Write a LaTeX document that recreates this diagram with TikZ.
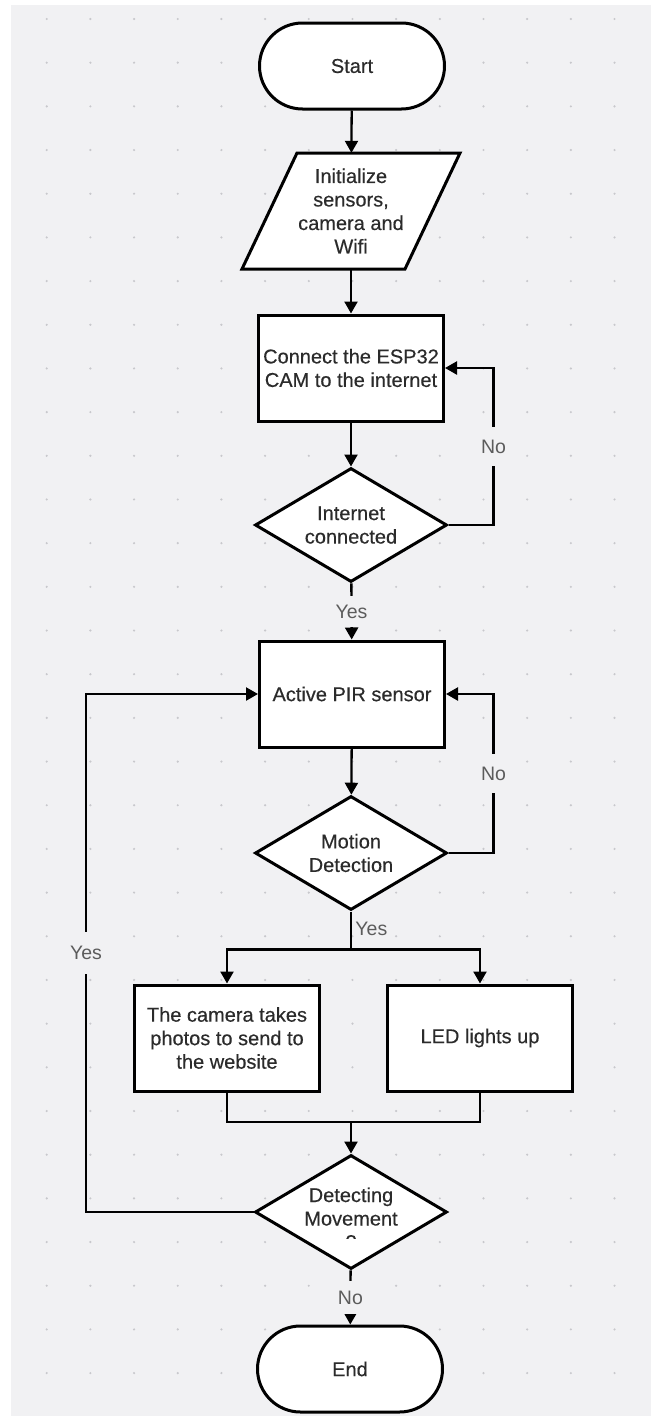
\documentclass[tikz,border=0pt]{standalone}
\usepackage{fontspec}
\setmainfont{Liberation Sans}
\newfontfamily\chartfont{Liberation Sans}[FakeBold=0.35]
\usetikzlibrary{shapes.geometric, shapes.misc, arrows.meta}

\definecolor{canvas}{HTML}{F1F1F3}
\definecolor{griddot}{HTML}{C8C8CC}
\definecolor{inktext}{HTML}{2B2B2B}
\definecolor{labeltext}{HTML}{5C5C5C}

\begin{document}
\begin{tikzpicture}[x=1pt, y=-1pt,
    every node/.style={font=\chartfont\fontsize{20}{23.5}\selectfont, text=inktext},
    terminal/.style={rounded rectangle, draw, line width=3pt, fill=white,
      minimum width=185pt, minimum height=86pt, inner sep=0pt},
    process/.style={rectangle, draw, line width=3pt, fill=white,
      minimum width=185pt, minimum height=106pt, inner sep=0pt, align=center},
    inout/.style={rectangle, minimum width=163pt, minimum height=116pt,
      inner sep=0pt, align=center},
    decision/.style={diamond, draw, line width=3pt, fill=white,
      minimum width=192pt, minimum height=114pt, inner sep=-18pt, align=center},
    flow/.style={line width=2.3pt, -{Triangle[length=12pt, width=13pt]}},
    plain/.style={line width=2.3pt},
    answer/.style={fill=canvas, text=labeltext, inner xsep=2pt, inner ysep=11pt,
      font=\fontsize{19.5}{23.5}\selectfont}]

  \useasboundingbox (0,0) rectangle (651,1416);

  % --- canvas with dot grid ---
  \fill[white] (0,0) rectangle (651,1416);
  \fill[canvas] (11,5) rectangle (651,1416);
  \foreach \i in {0,...,13}
    \foreach \j in {0,...,31}
      \fill[griddot] ({46.7+43.68*\i},{19+43.68*\j}) circle (1.2);

  % input box outline (parallelogram)
  \draw[line width=3pt, fill=white, line join=miter]
    (297,153) -- (460,153) -- (405,269) -- (242,269) -- cycle;

  % --- nodes ---
  \node[terminal] (start) at (352,66) {Start};
  \node[inout] (init) at (351,211) {Initialize\\sensors,\\camera and\\Wifi};
  \node[process] (connect) at (351,368) {Connect the ESP32\\CAM to the internet};
  \node[decision] (inet) at (351,525) {Internet\\connected};
  \node[process] (pir) at (352,694) {Active PIR sensor};
  \node[decision] (motion) at (351,853) {Motion\\Detection};
  \node[process] (camera) at (227,1038) {The camera takes\\photos to send to\\the website};
  \node[process] (led) at (480,1038) {LED lights up};
  \node[decision] (detect) at (351,1212) {\rule{0pt}{27pt}Detecting\\Movement\\?};

  % the question mark is cut off in the drawing
  \fill[white] ([yshift=-27pt]detect.center) ++(-12,0) rectangle ++(24,16);

  \node[terminal] (end) at (350,1369) {End};

  % --- main line ---
  \draw[flow] (start) -- (init);
  \draw[flow] (init) -- (connect);
  \draw[flow] (connect) -- (inet);
  \draw[flow] (inet) -- node[answer, inner ysep=9pt] {Yes} (pir);
  \draw[flow] (pir) -- (motion);

  % --- retry loops ---
  \draw[flow] (inet.east) -- ++(45,0) |- node[answer, pos=0.25, inner ysep=13pt] {No} (connect.east);
  \draw[flow] (motion.east) -- ++(45,0) |- node[answer, pos=0.25, inner ysep=13pt] {No} (pir.east);

  % --- split to camera and LED ---
  \draw[plain] (motion.south) -- node[right, text=labeltext, pos=0.45,
    font=\fontsize{19.5}{23.5}\selectfont] {Yes} ++(0,38) coordinate (split);
  \draw[flow] (split) -| (camera.north);
  \draw[flow] (split) -| (led.north);

  % --- merge ---
  \coordinate (merge) at (351,1122);
  \draw[plain] (camera.south) |- (merge) -| (led.south);
  \draw[flow] (merge) -- (detect);

  % --- back to PIR or end ---
  \draw[flow] (detect.west) -| ([xshift=-172pt]pir.west) node[answer, pos=0.75, inner ysep=14pt] {Yes} -- (pir.west);
  \draw[flow] (detect) -- node[answer, inner ysep=10pt] {No} (end);
\end{tikzpicture}
\end{document}
